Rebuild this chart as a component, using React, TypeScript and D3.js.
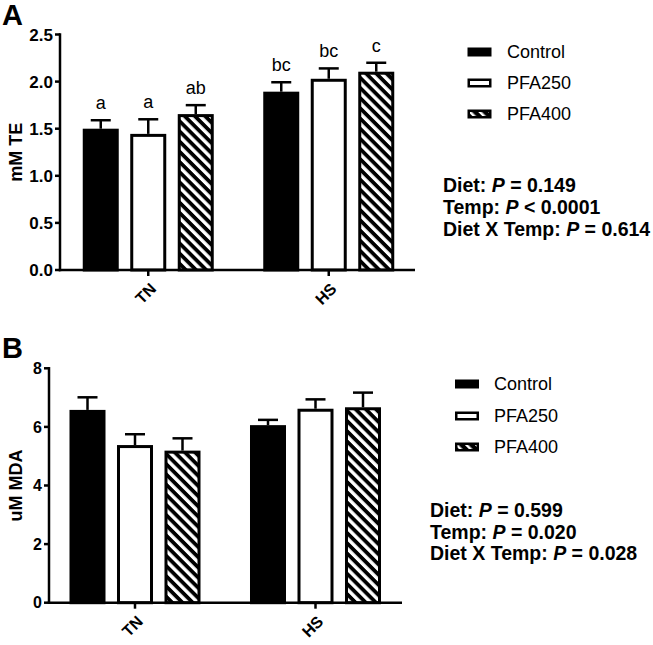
import React from "react";
import * as d3 from "d3";

const groups = ["TN", "HS"];
const series = ["Control", "PFA250", "PFA400"];

// Panel A: mM TE
const teMeanTN = [1.5, 1.445, 1.655];
const teMeanHS = [1.893, 2.03, 2.105];
const teSemTN = [0.09, 0.155, 0.095];
const teSemHS = [0.1, 0.11, 0.095];
const teLettersTN = ["a", "a", "ab"];
const teLettersHS = ["bc", "bc", "c"];
const teTicks = [0, 0.5, 1.0, 1.5, 2.0, 2.5];
const teStats = [
  ["Diet: ", "P", " = 0.149"],
  ["Temp: ", "P", " < 0.0001"],
  ["Diet X Temp: ", "P", " = 0.614"],
];

// Panel B: uM MDA
const mdaMeanTN = [6.58, 5.38, 5.19];
const mdaMeanHS = [6.06, 6.62, 6.67];
const mdaSemTN = [0.43, 0.37, 0.42];
const mdaSemHS = [0.18, 0.32, 0.5];
const mdaTicks = [0, 2, 4, 6, 8];
const mdaStats = [
  ["Diet: ", "P", " = 0.599"],
  ["Temp: ", "P", " = 0.020"],
  ["Diet X Temp: ", "P", " = 0.028"],
];

const FONT = "'Liberation Sans', Arial, Helvetica, sans-serif";
const fills = ["#000", "#fff", "url(#hatch)"];

type PanelProps = {
  letter: string;
  letterY: number;
  means: number[][];
  sems: number[][];
  letters?: string[][];
  ticks: number[];
  tickFmt: (v: number) => string;
  tickFont: number;
  yDomain: [number, number];
  yRange: [number, number];
  axisX: number;
  xRange: [number, number];
  xEnd: number;
  yTitle: string;
  legendX: number;
  legendTextX: number;
  legendY: number[];
  stats: string[][];
  statsX: number;
  statsY: number[];
};

function Panel(p: PanelProps) {
  const y = d3.scaleLinear().domain(p.yDomain).range(p.yRange);
  const x0 = d3.scaleBand<string>().domain(groups).range(p.xRange);
  const half = 71.25;
  const x1 = d3
    .scaleBand<string>()
    .domain(series)
    .range([-half, half])
    .paddingInner(0.242)
    .paddingOuter(0.121);
  const sw = 3;
  const base = y(0);
  return (
    <g>
      <text x={2} y={p.letterY} fontFamily={FONT} fontWeight="bold" fontSize={29}>
        {p.letter}
      </text>
      {groups.map((g, gi) =>
        series.map((s, si) => {
          const cx = (x0(g) as number) + x0.bandwidth() / 2;
          const bx = cx + (x1(s) as number);
          const bw = x1.bandwidth();
          const v = p.means[gi][si];
          const e = p.sems[gi][si];
          const top = y(v);
          const etop = y(v + e);
          const bcx = bx + bw / 2;
          return (
            <g key={g + s}>
              <line x1={bcx} x2={bcx} y1={top} y2={etop} stroke="#000" strokeWidth={2.5} />
              <line x1={bcx - 10} x2={bcx + 10} y1={etop} y2={etop} stroke="#000" strokeWidth={2.5} />
              <rect
                x={bx + sw / 2}
                y={top + sw / 2}
                width={bw - sw}
                height={base - top - sw / 2}
                fill={fills[si]}
                stroke="#000"
                strokeWidth={sw}
              />
              {p.letters && (
                <text
                  x={bcx}
                  y={etop - 11}
                  textAnchor="middle"
                  fontFamily={FONT}
                  fontSize={18}
                >
                  {p.letters[gi][si]}
                </text>
              )}
            </g>
          );
        })
      )}
      <line x1={p.axisX} x2={p.axisX} y1={y(p.yDomain[1]) - 1.25} y2={base + 1.25} stroke="#000" strokeWidth={2.5} />
      {p.ticks.map((t) => (
        <g key={t}>
          <line x1={p.axisX - 5} x2={p.axisX} y1={y(t)} y2={y(t)} stroke="#000" strokeWidth={2.5} />
          <text
            x={p.axisX - 7}
            y={y(t)}
            dy="0.36em"
            textAnchor="end"
            fontFamily={FONT}
            fontWeight="bold"
            fontSize={p.tickFont}
          >
            {p.tickFmt(t)}
          </text>
        </g>
      ))}
      <text
        transform={`translate(16,${(y(p.yDomain[1]) + base) / 2}) rotate(-90)`}
        textAnchor="middle"
        dy="0.36em"
        fontFamily={FONT}
        fontWeight="bold"
        fontSize={18}
      >
        {p.yTitle}
      </text>
      <line x1={p.axisX - 1.25} x2={p.xEnd} y1={base} y2={base} stroke="#000" strokeWidth={2.5} />
      {groups.map((g) => {
        const cx = (x0(g) as number) + x0.bandwidth() / 2;
        return (
          <g key={g}>
            <line x1={cx} x2={cx} y1={base} y2={base + 6} stroke="#000" strokeWidth={2.5} />
            <text
              transform={`translate(${cx + 1},${base + 12}) rotate(-45)`}
              textAnchor="end"
              dy="0.7em"
              fontFamily={FONT}
              fontWeight="bold"
              fontSize={16}
            >
              {g}
            </text>
          </g>
        );
      })}
      {series.map((s, si) => (
        <g key={s}>
          <rect
            x={p.legendX + 1.25}
            y={p.legendY[si] - 4.5 + 1.25}
            width={24 - 2.5}
            height={9 - 2.5}
            fill={si === 2 ? "url(#hatchSmall)" : fills[si]}
            stroke="#000"
            strokeWidth={2.5}
          />
          <text
            x={p.legendTextX}
            y={p.legendY[si]}
            dy="0.36em"
            fontFamily={FONT}
            fontSize={18}
          >
            {s}
          </text>
        </g>
      ))}
      {p.stats.map((line, i) => (
        <text
          key={i}
          x={p.statsX}
          y={p.statsY[i]}
          fontFamily={FONT}
          fontWeight="bold"
          fontSize={19.5}
        >
          {line[0]}
          <tspan fontStyle="italic">{line[1]}</tspan>
          {line[2]}
        </text>
      ))}
    </g>
  );
}

export default function App() {
  return (
    <svg
      width={653}
      height={645}
      style={{ position: "absolute", left: 0, top: 0, background: "#fff" }}
    >
      <defs>
        <pattern
          id="hatch"
          patternUnits="userSpaceOnUse"
          width={7.2}
          height={7.2}
          patternTransform="rotate(-45)"
        >
          <rect x={0} y={0} width={7.2} height={7.2} fill="#000" />
          <rect x={0} y={0} width={3.4} height={7.2} fill="#fff" />
        </pattern>
        <pattern
          id="hatchSmall"
          patternUnits="userSpaceOnUse"
          width={7}
          height={7}
          patternTransform="rotate(-45)"
        >
          <rect x={0} y={0} width={7} height={7} fill="#000" />
          <rect x={0} y={0} width={2.5} height={7} fill="#fff" />
        </pattern>
      </defs>
      <rect width={653} height={645} fill="#fff" />
      <Panel
        letter="A"
        letterY={25}
        means={[teMeanTN, teMeanHS]}
        sems={[teSemTN, teSemHS]}
        letters={[teLettersTN, teLettersHS]}
        ticks={teTicks}
        tickFmt={(v) => d3.format(".1f")(v)}
        tickFont={17}
        yDomain={[0, 2.5]}
        yRange={[270, 34.5]}
        axisX={60}
        xRange={[58, 419]}
        xEnd={415}
        yTitle="mM TE"
        legendX={467.5}
        legendTextX={507}
        legendY={[52, 83, 114]}
        stats={teStats}
        statsX={443}
        statsY={[191.5, 213.5, 236]}
      />
      <Panel
        letter="B"
        letterY={358}
        means={[mdaMeanTN, mdaMeanHS]}
        sems={[mdaSemTN, mdaSemHS]}
        ticks={mdaTicks}
        tickFmt={(v) => d3.format("d")(v)}
        tickFont={16}
        yDomain={[0, 8]}
        yRange={[602.7, 368.3]}
        axisX={49}
        xRange={[44.75, 405.75]}
        xEnd={402}
        yTitle="uM MDA"
        legendX={455}
        legendTextX={494}
        legendY={[384, 416, 447]}
        stats={mdaStats}
        statsX={430}
        statsY={[517, 538.5, 560]}
      />
    </svg>
  );
}
